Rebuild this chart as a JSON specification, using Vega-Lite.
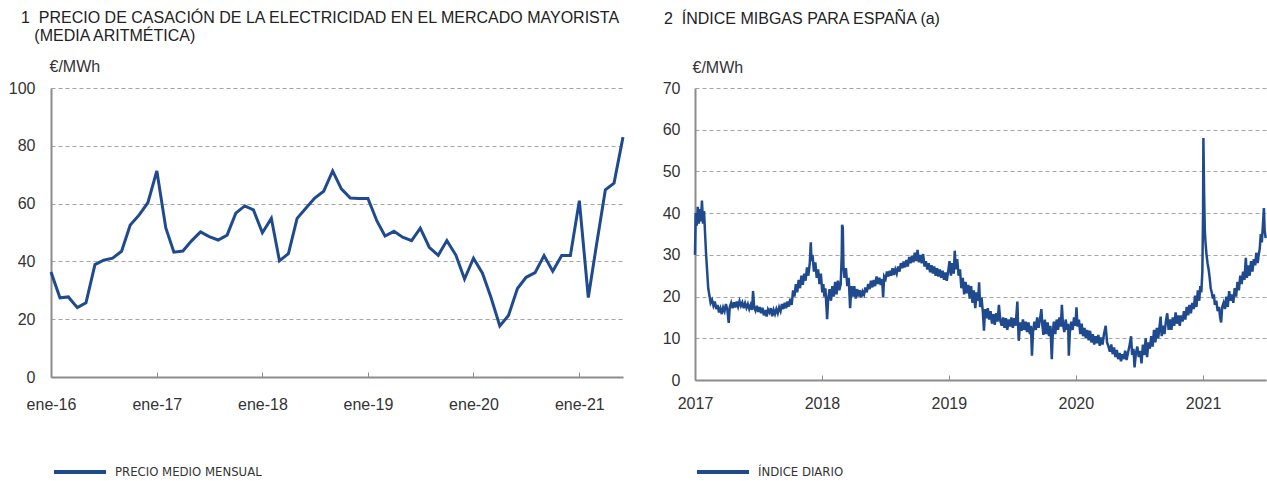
{
"$schema":"https://vega.github.io/schema/vega-lite/v6.json",
"background":"white",
"padding":{"left":8,"top":10,"right":0,"bottom":0},
"bounds":"flush",
"spacing":72,
"config":{
 "view":{"stroke":null},
 "font":"Liberation Sans",
 "axis":{"labelFont":"Liberation Sans","labelFontSize":16,"labelColor":"#333333","domainColor":"#8c8c8c","domainWidth":2,"tickColor":"#8c8c8c","tickWidth":1,"gridColor":"#a5a5a5","gridDash":[4,3],"gridWidth":1,"titleFont":"Liberation Sans","titleFontSize":16,"titleFontWeight":"normal","titleColor":"#333333"},
 "title":{"font":"Liberation Sans","fontSize":16,"fontWeight":"normal","color":"#222222","anchor":"start","frame":"group","lineHeight":18},
 "legend":{"labelFont":"Liberation Sans Narrow, DejaVu Sans Condensed","labelFontSize":13,"labelColor":"#333333"}
},
"resolve":{"scale":{"color":"independent"}},
"hconcat":[
{
 "width":572,"height":289,
 "title":{"text":["1\u00a0\u00a0PRECIO DE CASACIÓN DE LA ELECTRICIDAD EN EL MERCADO MAYORISTA","\u200b\u00a0\u00a0\u00a0(MEDIA ARITMÉTICA)"],"dx":-30,"offset":14},
 "data":{"values":[
{"d":"2016-01-01","v":36.3},{"d":"2016-02-01","v":27.4},{"d":"2016-03-01","v":27.7},{"d":"2016-04-01","v":24.0},{"d":"2016-05-01","v":25.7},{"d":"2016-06-01","v":38.9},{"d":"2016-07-01","v":40.4},{"d":"2016-08-01","v":41.1},{"d":"2016-09-01","v":43.5},{"d":"2016-10-01","v":52.6},{"d":"2016-11-01","v":56.1},{"d":"2016-12-01","v":60.3},
{"d":"2017-01-01","v":71.3},{"d":"2017-02-01","v":51.6},{"d":"2017-03-01","v":43.2},{"d":"2017-04-01","v":43.6},{"d":"2017-05-01","v":47.1},{"d":"2017-06-01","v":50.2},{"d":"2017-07-01","v":48.6},{"d":"2017-08-01","v":47.4},{"d":"2017-09-01","v":49.1},{"d":"2017-10-01","v":56.7},{"d":"2017-11-01","v":59.2},{"d":"2017-12-01","v":57.8},
{"d":"2018-01-01","v":49.9},{"d":"2018-02-01","v":54.9},{"d":"2018-03-01","v":40.2},{"d":"2018-04-01","v":42.7},{"d":"2018-05-01","v":54.9},{"d":"2018-06-01","v":58.5},{"d":"2018-07-01","v":61.9},{"d":"2018-08-01","v":64.3},{"d":"2018-09-01","v":71.3},{"d":"2018-10-01","v":65.1},{"d":"2018-11-01","v":61.9},{"d":"2018-12-01","v":61.8},
{"d":"2019-01-01","v":61.8},{"d":"2019-02-01","v":54.0},{"d":"2019-03-01","v":48.8},{"d":"2019-04-01","v":50.4},{"d":"2019-05-01","v":48.4},{"d":"2019-06-01","v":47.2},{"d":"2019-07-01","v":51.5},{"d":"2019-08-01","v":44.9},{"d":"2019-09-01","v":42.1},{"d":"2019-10-01","v":47.2},{"d":"2019-11-01","v":42.2},{"d":"2019-12-01","v":33.9},
{"d":"2020-01-01","v":41.1},{"d":"2020-02-01","v":35.9},{"d":"2020-03-01","v":27.7},{"d":"2020-04-01","v":17.7},{"d":"2020-05-01","v":21.3},{"d":"2020-06-01","v":30.6},{"d":"2020-07-01","v":34.5},{"d":"2020-08-01","v":36.1},{"d":"2020-09-01","v":42.0},{"d":"2020-10-01","v":36.6},{"d":"2020-11-01","v":42.0},{"d":"2020-12-01","v":42.0},
{"d":"2021-01-01","v":61.0},{"d":"2021-02-01","v":27.5},{"d":"2021-03-01","v":45.5},{"d":"2021-04-01","v":64.8},{"d":"2021-05-01","v":67.1},{"d":"2021-06-01","v":83.0}
 ]},
 "mark":{"type":"line","strokeWidth":3,"strokeJoin":"miter"},
 "encoding":{
  "x":{"field":"d","type":"temporal","scale":{"domain":[{"year":2016,"month":1,"date":1},{"year":2021,"month":6,"date":1}]},
   "axis":{"title":null,"grid":false,"labelFlush":false,"values":[{"year":2016,"month":1,"date":1},{"year":2017,"month":1,"date":1},{"year":2018,"month":1,"date":1},{"year":2019,"month":1,"date":1},{"year":2020,"month":1,"date":1},{"year":2021,"month":1,"date":1}],"labelExpr":"'ene-' + timeFormat(datum.value, '%y')","tickSize":-5,"labelPadding":24}},
  "y":{"field":"v","type":"quantitative","scale":{"domain":[0,100],"nice":false},
   "axis":{"title":"€/MWh","titleAngle":0,"titleAlign":"left","titleBaseline":"middle","titleX":-2,"titleY":-22,"values":[0,20,40,60,80,100],"ticks":false,"labelPadding":16}},
  "color":{"datum":"PRECIO MEDIO MENSUAL","type":"nominal","scale":{"range":["#1f4b8e"]},
   "legend":{"title":null,"orient":"none","legendX":1,"legendY":356,"symbolType":"stroke","symbolSize":2704,"symbolStrokeWidth":4,"labelOffset":7}}
 }
},
{
 "width":571,"height":292,
 "title":{"text":"2\u00a0\u00a0ÍNDICE MIBGAS PARA ESPAÑA (a)","dx":-31,"offset":32},
 "data":{"values":[
{"d":"2017-01-01","v":30},{"d":"2017-01-03","v":40},{"d":"2017-01-06","v":37},{"d":"2017-01-09","v":41.5},{"d":"2017-01-12","v":37.5},{"d":"2017-01-15","v":41},{"d":"2017-01-18","v":38},{"d":"2017-01-21","v":43},{"d":"2017-01-24","v":37.5},{"d":"2017-01-27","v":40.5},{"d":"2017-01-30","v":35},
{"d":"2017-02-02","v":30},{"d":"2017-02-05","v":26},{"d":"2017-02-08","v":22},{"d":"2017-02-11","v":20.5},{"d":"2017-02-15","v":18.5},{"d":"2017-02-19","v":19.2},{"d":"2017-02-23","v":17.8},{"d":"2017-02-27","v":18.8},
{"d":"2017-03-03","v":17},{"d":"2017-03-07","v":18},{"d":"2017-03-11","v":16.2},{"d":"2017-03-15","v":17.2},{"d":"2017-03-19","v":15.8},{"d":"2017-03-23","v":17.4},{"d":"2017-03-27","v":16.5},{"d":"2017-03-31","v":18.2},
{"d":"2017-04-04","v":16.8},{"d":"2017-04-08","v":13.7},{"d":"2017-04-11","v":17.5},{"d":"2017-04-15","v":18.5},{"d":"2017-04-19","v":17.2},{"d":"2017-04-23","v":18.6},{"d":"2017-04-27","v":17.4},
{"d":"2017-05-01","v":18.8},{"d":"2017-05-05","v":17.6},{"d":"2017-05-09","v":18.9},{"d":"2017-05-13","v":17.8},{"d":"2017-05-17","v":18.6},{"d":"2017-05-21","v":17.2},{"d":"2017-05-25","v":18.4},{"d":"2017-05-29","v":17.3},
{"d":"2017-06-02","v":18.2},{"d":"2017-06-06","v":17.0},{"d":"2017-06-10","v":18.0},{"d":"2017-06-14","v":16.8},{"d":"2017-06-17","v":21.3},{"d":"2017-06-20","v":17.5},{"d":"2017-06-24","v":16.6},{"d":"2017-06-28","v":17.8},
{"d":"2017-07-02","v":16.3},{"d":"2017-07-06","v":17.5},{"d":"2017-07-10","v":16.0},{"d":"2017-07-14","v":17.3},{"d":"2017-07-18","v":15.5},{"d":"2017-07-22","v":16.8},{"d":"2017-07-26","v":15.2},{"d":"2017-07-30","v":16.9},
{"d":"2017-08-03","v":16.2},{"d":"2017-08-07","v":17.2},{"d":"2017-08-11","v":15.3},{"d":"2017-08-15","v":16.8},{"d":"2017-08-19","v":15.8},{"d":"2017-08-23","v":17.0},{"d":"2017-08-27","v":16.0},{"d":"2017-08-31","v":17.4},
{"d":"2017-09-04","v":16.5},{"d":"2017-09-08","v":18.2},{"d":"2017-09-12","v":17.0},{"d":"2017-09-16","v":18.5},{"d":"2017-09-20","v":17.2},{"d":"2017-09-24","v":18.8},{"d":"2017-09-28","v":17.6},
{"d":"2017-10-02","v":19.5},{"d":"2017-10-06","v":18.0},{"d":"2017-10-10","v":21.5},{"d":"2017-10-14","v":20.0},{"d":"2017-10-18","v":23.0},{"d":"2017-10-22","v":21.0},{"d":"2017-10-26","v":24.0},{"d":"2017-10-30","v":22.0},
{"d":"2017-11-03","v":25.0},{"d":"2017-11-07","v":22.8},{"d":"2017-11-11","v":25.5},{"d":"2017-11-15","v":23.8},{"d":"2017-11-19","v":27.0},{"d":"2017-11-23","v":25.0},{"d":"2017-11-27","v":28.0},{"d":"2017-11-30","v":33.0},
{"d":"2017-12-02","v":28.5},{"d":"2017-12-05","v":30.0},{"d":"2017-12-09","v":26.0},{"d":"2017-12-13","v":28.2},{"d":"2017-12-17","v":24.5},{"d":"2017-12-21","v":26.5},{"d":"2017-12-25","v":23.0},{"d":"2017-12-29","v":25.5},
{"d":"2018-01-02","v":21.0},{"d":"2018-01-05","v":23.0},{"d":"2018-01-08","v":20.0},{"d":"2018-01-11","v":22.0},{"d":"2018-01-14","v":17.5},{"d":"2018-01-16","v":14.6},{"d":"2018-01-19","v":19.5},{"d":"2018-01-23","v":21.8},{"d":"2018-01-27","v":19.0},{"d":"2018-01-31","v":22.5},
{"d":"2018-02-04","v":20.0},{"d":"2018-02-08","v":23.5},{"d":"2018-02-12","v":20.5},{"d":"2018-02-16","v":23.8},{"d":"2018-02-20","v":21.5},{"d":"2018-02-24","v":23.0},{"d":"2018-02-27","v":30.0},{"d":"2018-02-28","v":37.2},
{"d":"2018-03-02","v":36.5},{"d":"2018-03-04","v":27.0},{"d":"2018-03-07","v":24.5},{"d":"2018-03-11","v":26.8},{"d":"2018-03-15","v":22.5},{"d":"2018-03-19","v":24.5},{"d":"2018-03-23","v":17.2},{"d":"2018-03-27","v":22.5},{"d":"2018-03-31","v":20.0},
{"d":"2018-04-04","v":22.5},{"d":"2018-04-08","v":19.5},{"d":"2018-04-12","v":21.8},{"d":"2018-04-16","v":20.0},{"d":"2018-04-20","v":21.5},{"d":"2018-04-24","v":19.8},{"d":"2018-04-28","v":21.2},
{"d":"2018-05-02","v":20.5},{"d":"2018-05-06","v":22.2},{"d":"2018-05-10","v":21.0},{"d":"2018-05-14","v":23.0},{"d":"2018-05-18","v":21.8},{"d":"2018-05-22","v":23.8},{"d":"2018-05-26","v":22.2},{"d":"2018-05-30","v":24.0},
{"d":"2018-06-03","v":22.5},{"d":"2018-06-07","v":24.8},{"d":"2018-06-11","v":23.0},{"d":"2018-06-15","v":24.5},{"d":"2018-06-19","v":22.8},{"d":"2018-06-23","v":24.2},{"d":"2018-06-26","v":19.8},{"d":"2018-06-29","v":24.8},
{"d":"2018-07-03","v":24.2},{"d":"2018-07-07","v":26.0},{"d":"2018-07-11","v":24.8},{"d":"2018-07-15","v":26.2},{"d":"2018-07-19","v":25.0},{"d":"2018-07-23","v":26.8},{"d":"2018-07-27","v":25.2},{"d":"2018-07-31","v":26.5},
{"d":"2018-08-04","v":25.5},{"d":"2018-08-08","v":27.2},{"d":"2018-08-12","v":26.0},{"d":"2018-08-16","v":28.0},{"d":"2018-08-20","v":26.8},{"d":"2018-08-24","v":28.4},{"d":"2018-08-28","v":27.0},
{"d":"2018-09-01","v":28.8},{"d":"2018-09-05","v":27.2},{"d":"2018-09-09","v":29.5},{"d":"2018-09-13","v":28.0},{"d":"2018-09-17","v":29.8},{"d":"2018-09-21","v":28.2},{"d":"2018-09-25","v":30.5},{"d":"2018-09-29","v":28.5},
{"d":"2018-10-03","v":31.2},{"d":"2018-10-07","v":28.2},{"d":"2018-10-11","v":30.0},{"d":"2018-10-15","v":28.0},{"d":"2018-10-19","v":30.2},{"d":"2018-10-23","v":27.2},{"d":"2018-10-27","v":28.5},{"d":"2018-10-31","v":26.5},
{"d":"2018-11-04","v":28.0},{"d":"2018-11-08","v":25.8},{"d":"2018-11-12","v":27.5},{"d":"2018-11-16","v":25.5},{"d":"2018-11-20","v":27.2},{"d":"2018-11-24","v":25.0},{"d":"2018-11-28","v":26.8},
{"d":"2018-12-02","v":24.8},{"d":"2018-12-06","v":26.5},{"d":"2018-12-10","v":24.5},{"d":"2018-12-14","v":26.2},{"d":"2018-12-18","v":24.0},{"d":"2018-12-22","v":25.8},{"d":"2018-12-26","v":23.8},{"d":"2018-12-30","v":26.0},
{"d":"2019-01-03","v":28.5},{"d":"2019-01-07","v":25.0},{"d":"2019-01-11","v":28.0},{"d":"2019-01-15","v":25.5},{"d":"2019-01-18","v":31.0},{"d":"2019-01-21","v":26.5},{"d":"2019-01-25","v":29.0},{"d":"2019-01-29","v":25.0},
{"d":"2019-02-02","v":26.5},{"d":"2019-02-06","v":22.0},{"d":"2019-02-10","v":24.5},{"d":"2019-02-14","v":20.5},{"d":"2019-02-18","v":23.5},{"d":"2019-02-22","v":20.8},{"d":"2019-02-26","v":22.8},
{"d":"2019-03-02","v":19.5},{"d":"2019-03-06","v":22.5},{"d":"2019-03-10","v":18.5},{"d":"2019-03-14","v":21.5},{"d":"2019-03-18","v":17.2},{"d":"2019-03-22","v":21.0},{"d":"2019-03-26","v":19.0},{"d":"2019-03-29","v":23.4},
{"d":"2019-04-01","v":17.5},{"d":"2019-04-05","v":19.8},{"d":"2019-04-09","v":16.0},{"d":"2019-04-12","v":11.8},{"d":"2019-04-15","v":17.0},{"d":"2019-04-19","v":14.8},{"d":"2019-04-23","v":17.2},{"d":"2019-04-27","v":14.5},
{"d":"2019-05-01","v":16.5},{"d":"2019-05-05","v":13.5},{"d":"2019-05-09","v":15.8},{"d":"2019-05-13","v":13.2},{"d":"2019-05-17","v":16.0},{"d":"2019-05-21","v":14.0},{"d":"2019-05-25","v":18.0},{"d":"2019-05-29","v":14.2},
{"d":"2019-06-02","v":13.0},{"d":"2019-06-06","v":15.0},{"d":"2019-06-10","v":12.5},{"d":"2019-06-14","v":14.8},{"d":"2019-06-18","v":12.0},{"d":"2019-06-22","v":14.5},{"d":"2019-06-26","v":12.8},{"d":"2019-06-30","v":15.0},
{"d":"2019-07-04","v":12.5},{"d":"2019-07-08","v":14.8},{"d":"2019-07-12","v":13.0},{"d":"2019-07-17","v":18.8},{"d":"2019-07-19","v":13.5},{"d":"2019-07-21","v":9.4},{"d":"2019-07-25","v":13.8},{"d":"2019-07-29","v":11.8},
{"d":"2019-08-02","v":14.5},{"d":"2019-08-06","v":12.0},{"d":"2019-08-10","v":14.0},{"d":"2019-08-14","v":11.5},{"d":"2019-08-18","v":13.8},{"d":"2019-08-22","v":11.0},{"d":"2019-08-25","v":13.0},{"d":"2019-08-28","v":5.8},{"d":"2019-08-31","v":11.5},
{"d":"2019-09-04","v":14.0},{"d":"2019-09-08","v":12.0},{"d":"2019-09-12","v":15.0},{"d":"2019-09-16","v":12.5},{"d":"2019-09-20","v":14.5},{"d":"2019-09-24","v":17.0},{"d":"2019-09-27","v":13.0},{"d":"2019-09-30","v":10.8},
{"d":"2019-10-04","v":14.5},{"d":"2019-10-08","v":11.0},{"d":"2019-10-12","v":13.8},{"d":"2019-10-16","v":10.5},{"d":"2019-10-20","v":13.0},{"d":"2019-10-24","v":5.0},{"d":"2019-10-27","v":11.5},{"d":"2019-10-30","v":14.0},
{"d":"2019-11-03","v":11.0},{"d":"2019-11-07","v":14.5},{"d":"2019-11-11","v":12.0},{"d":"2019-11-15","v":15.0},{"d":"2019-11-19","v":12.8},{"d":"2019-11-22","v":18.0},{"d":"2019-11-25","v":13.5},{"d":"2019-11-29","v":11.5},
{"d":"2019-12-03","v":14.5},{"d":"2019-12-07","v":12.0},{"d":"2019-12-10","v":13.5},{"d":"2019-12-12","v":5.8},{"d":"2019-12-15","v":11.5},{"d":"2019-12-19","v":14.0},{"d":"2019-12-23","v":12.0},{"d":"2019-12-27","v":15.0},{"d":"2019-12-31","v":13.0},
{"d":"2020-01-03","v":17.4},{"d":"2020-01-06","v":12.8},{"d":"2020-01-10","v":14.5},{"d":"2020-01-14","v":11.0},{"d":"2020-01-18","v":13.5},{"d":"2020-01-22","v":10.5},{"d":"2020-01-26","v":12.5},{"d":"2020-01-30","v":10.0},
{"d":"2020-02-03","v":12.0},{"d":"2020-02-07","v":9.5},{"d":"2020-02-11","v":11.8},{"d":"2020-02-15","v":9.0},{"d":"2020-02-19","v":11.0},{"d":"2020-02-23","v":8.5},{"d":"2020-02-27","v":10.5},
{"d":"2020-03-02","v":8.8},{"d":"2020-03-06","v":10.8},{"d":"2020-03-10","v":8.2},{"d":"2020-03-14","v":10.2},{"d":"2020-03-18","v":8.5},{"d":"2020-03-22","v":11.0},{"d":"2020-03-27","v":13.0},{"d":"2020-03-31","v":9.0},
{"d":"2020-04-04","v":8.0},{"d":"2020-04-08","v":6.8},{"d":"2020-04-12","v":8.5},{"d":"2020-04-16","v":6.2},{"d":"2020-04-20","v":7.8},{"d":"2020-04-24","v":5.5},{"d":"2020-04-28","v":7.2},
{"d":"2020-05-02","v":5.0},{"d":"2020-05-06","v":6.5},{"d":"2020-05-10","v":4.5},{"d":"2020-05-14","v":6.2},{"d":"2020-05-18","v":5.0},{"d":"2020-05-22","v":7.0},{"d":"2020-05-26","v":4.8},{"d":"2020-05-30","v":6.5},
{"d":"2020-06-03","v":8.0},{"d":"2020-06-08","v":10.5},{"d":"2020-06-11","v":6.0},{"d":"2020-06-15","v":7.5},{"d":"2020-06-18","v":3.0},{"d":"2020-06-22","v":6.5},{"d":"2020-06-26","v":8.0},{"d":"2020-06-30","v":5.5},
{"d":"2020-07-04","v":7.0},{"d":"2020-07-08","v":4.0},{"d":"2020-07-12","v":8.5},{"d":"2020-07-16","v":6.0},{"d":"2020-07-20","v":10.0},{"d":"2020-07-24","v":5.5},{"d":"2020-07-28","v":9.0},
{"d":"2020-08-01","v":7.5},{"d":"2020-08-05","v":10.5},{"d":"2020-08-09","v":8.0},{"d":"2020-08-13","v":12.0},{"d":"2020-08-17","v":9.0},{"d":"2020-08-21","v":12.5},{"d":"2020-08-25","v":10.0},{"d":"2020-08-29","v":13.0},
{"d":"2020-09-01","v":15.2},{"d":"2020-09-04","v":10.5},{"d":"2020-09-08","v":13.0},{"d":"2020-09-12","v":11.0},{"d":"2020-09-16","v":14.0},{"d":"2020-09-20","v":16.0},{"d":"2020-09-24","v":12.0},{"d":"2020-09-28","v":14.5},
{"d":"2020-10-02","v":12.0},{"d":"2020-10-06","v":15.0},{"d":"2020-10-10","v":13.0},{"d":"2020-10-14","v":16.2},{"d":"2020-10-18","v":13.5},{"d":"2020-10-22","v":15.5},{"d":"2020-10-26","v":13.0},{"d":"2020-10-30","v":15.5},
{"d":"2020-11-03","v":14.0},{"d":"2020-11-07","v":16.5},{"d":"2020-11-11","v":14.5},{"d":"2020-11-15","v":17.5},{"d":"2020-11-19","v":15.5},{"d":"2020-11-23","v":18.0},{"d":"2020-11-27","v":16.0},
{"d":"2020-12-01","v":18.5},{"d":"2020-12-05","v":17.0},{"d":"2020-12-09","v":20.2},{"d":"2020-12-13","v":17.5},{"d":"2020-12-17","v":21.5},{"d":"2020-12-21","v":19.0},{"d":"2020-12-24","v":22.5},{"d":"2020-12-27","v":21.0},{"d":"2020-12-30","v":26.0},
{"d":"2021-01-01","v":40},{"d":"2021-01-02","v":58},{"d":"2021-01-04","v":45},{"d":"2021-01-06","v":36},{"d":"2021-01-08","v":33},{"d":"2021-01-11","v":30},{"d":"2021-01-14","v":28},{"d":"2021-01-17","v":26.5},{"d":"2021-01-20","v":24.5},{"d":"2021-01-23","v":22},{"d":"2021-01-26","v":21},{"d":"2021-01-29","v":19.5},
{"d":"2021-02-01","v":20.5},{"d":"2021-02-04","v":18.0},{"d":"2021-02-08","v":19.0},{"d":"2021-02-12","v":16.5},{"d":"2021-02-16","v":17.5},{"d":"2021-02-19","v":15.0},{"d":"2021-02-22","v":13.8},{"d":"2021-02-25","v":17.5},
{"d":"2021-03-01","v":18.5},{"d":"2021-03-05","v":17.0},{"d":"2021-03-09","v":20.0},{"d":"2021-03-13","v":17.5},{"d":"2021-03-17","v":21.3},{"d":"2021-03-21","v":19.0},{"d":"2021-03-25","v":20.5},{"d":"2021-03-29","v":18.5},
{"d":"2021-04-02","v":22.0},{"d":"2021-04-06","v":20.0},{"d":"2021-04-10","v":23.5},{"d":"2021-04-14","v":21.5},{"d":"2021-04-18","v":25.0},{"d":"2021-04-22","v":23.0},{"d":"2021-04-26","v":26.0},{"d":"2021-04-30","v":24.0},
{"d":"2021-05-04","v":29.3},{"d":"2021-05-07","v":24.5},{"d":"2021-05-11","v":27.5},{"d":"2021-05-15","v":25.0},{"d":"2021-05-19","v":28.5},{"d":"2021-05-23","v":26.0},{"d":"2021-05-27","v":29.0},{"d":"2021-05-31","v":27.5},
{"d":"2021-06-03","v":30.5},{"d":"2021-06-07","v":28.0},{"d":"2021-06-10","v":30.0},{"d":"2021-06-13","v":31.5},{"d":"2021-06-16","v":35.0},{"d":"2021-06-19","v":33.0},{"d":"2021-06-22","v":37.0},{"d":"2021-06-25","v":41.2},{"d":"2021-06-27","v":36.0},{"d":"2021-06-30","v":34.0}
 ]},
 "mark":{"type":"line","strokeWidth":2.5},
 "encoding":{
  "x":{"field":"d","type":"temporal","scale":{"domain":[{"year":2017,"month":1,"date":1},{"year":2021,"month":7,"date":1}]},
   "axis":{"title":null,"grid":false,"labelFlush":false,"values":[{"year":2017,"month":1,"date":1},{"year":2018,"month":1,"date":1},{"year":2019,"month":1,"date":1},{"year":2020,"month":1,"date":1},{"year":2021,"month":1,"date":1}],"format":"%Y","tickSize":-5,"labelPadding":20}},
  "y":{"field":"v","type":"quantitative","scale":{"domain":[0,70],"nice":false},
   "axis":{"title":"€/MWh","titleAngle":0,"titleAlign":"left","titleBaseline":"middle","titleX":-3,"titleY":-21,"values":[0,10,20,30,40,50,60,70],"ticks":false,"labelPadding":15}},
  "color":{"datum":"ÍNDICE DIARIO","type":"nominal","scale":{"range":["#1f4b8e"]},
   "legend":{"title":null,"orient":"none","legendX":0,"legendY":356,"symbolType":"stroke","symbolSize":2704,"symbolStrokeWidth":4,"labelOffset":7}}
 }
}
]
}
